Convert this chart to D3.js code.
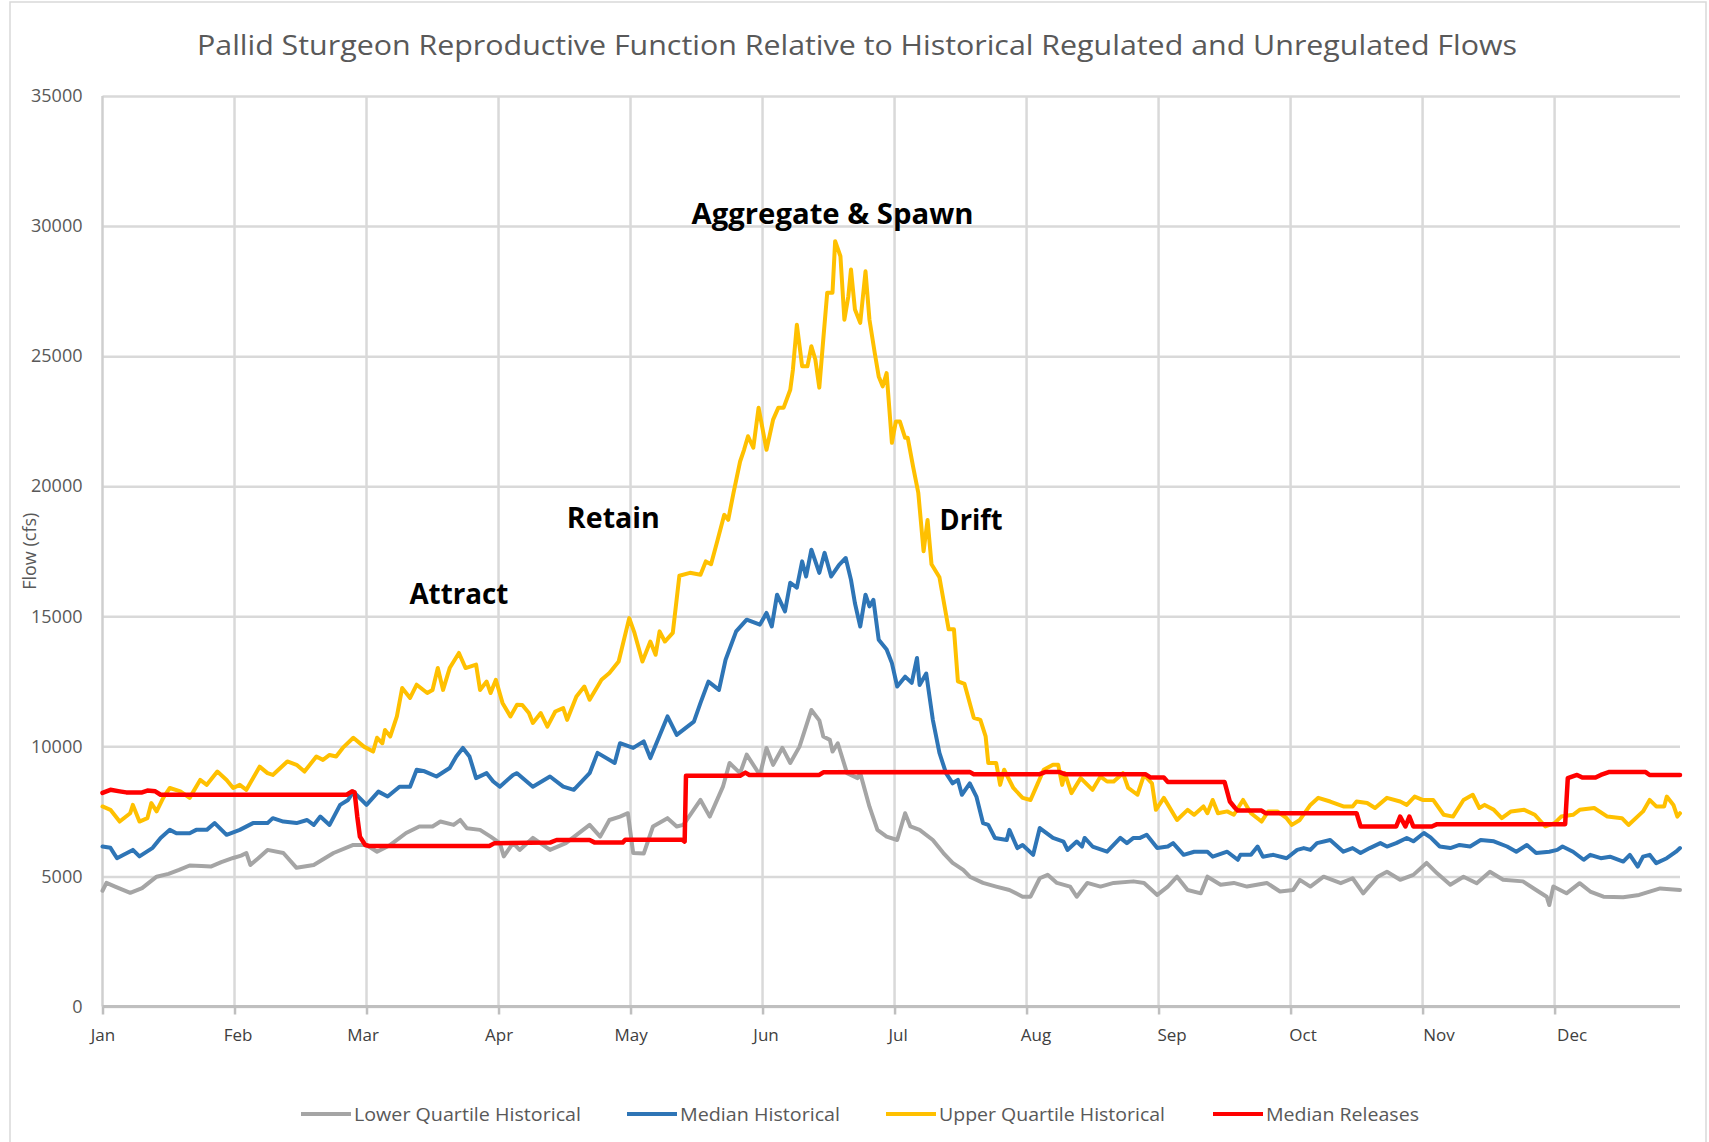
<!DOCTYPE html>
<html>
<head>
<meta charset="utf-8">
<script src="https://cdn.jsdelivr.net/npm/d3@7"></script>
<style>
  html, body { margin: 0; padding: 0; background: #ffffff; }
  svg { display: block; }
  text { font-family: "Open Sans", "Noto Sans", sans-serif; }
</style>
</head>
<body>
<svg id="chart" width="1709" height="1142"></svg>
<script>
// ---------- DATA ----------
const chartTitle = "Pallid Sturgeon Reproductive Function Relative to Historical Regulated and Unregulated Flows";
const yAxisTitle = "Flow (cfs)";
const monthLabels = ["Jan","Feb","Mar","Apr","May","Jun","Jul","Aug","Sep","Oct","Nov","Dec"];
const yTicks = [0, 5000, 10000, 15000, 20000, 25000, 30000, 35000];
const seriesNames = ["Lower Quartile Historical", "Median Historical", "Upper Quartile Historical", "Median Releases"];

// [month position (0 = Jan 1), flow cfs]
const lowerQuartile = [[0,4450],[0.03,4750],[0.1,4600],[0.21,4370],[0.3,4550],[0.41,4990],[0.5,5100],[0.58,5250],[0.66,5420],[0.75,5400],[0.82,5380],[0.9,5550],[0.99,5710],[1.05,5800],[1.09,5900],[1.12,5440],[1.18,5700],[1.25,6020],[1.37,5900],[1.47,5330],[1.6,5440],[1.75,5900],[1.9,6210],[2.0,6210],[2.08,5950],[2.18,6210],[2.3,6670],[2.4,6920],[2.5,6920],[2.56,7110],[2.66,6980],[2.71,7170],[2.76,6850],[2.86,6790],[2.94,6530],[3.01,6280],[3.04,5770],[3.11,6280],[3.16,6020],[3.26,6480],[3.39,6020],[3.51,6280],[3.69,6980],[3.77,6530],[3.84,7170],[3.92,7300],[3.98,7430],[4.02,5900],[4.1,5880],[4.17,6920],[4.28,7240],[4.35,6920],[4.4,6980],[4.53,7940],[4.6,7300],[4.7,8450],[4.75,9360],[4.83,8970],[4.88,9680],[4.98,8900],[5.03,9940],[5.08,9290],[5.15,9940],[5.21,9360],[5.28,9990],[5.37,11400],[5.43,11000],[5.46,10380],[5.51,10250],[5.53,9800],[5.57,10120],[5.64,8970],[5.72,8780],[5.74,8970],[5.81,7680],[5.87,6790],[5.94,6530],[6.02,6400],[6.08,7430],[6.12,6920],[6.19,6790],[6.29,6400],[6.37,5900],[6.44,5520],[6.52,5250],[6.57,4990],[6.67,4750],[6.77,4610],[6.87,4480],[6.97,4220],[7.03,4220],[7.1,4930],[7.16,5060],[7.23,4750],[7.33,4610],[7.38,4220],[7.46,4750],[7.56,4610],[7.66,4750],[7.81,4810],[7.89,4750],[7.99,4290],[8.07,4610],[8.14,4990],[8.22,4480],[8.32,4350],[8.37,4990],[8.47,4680],[8.57,4750],[8.67,4610],[8.82,4750],[8.92,4420],[9.02,4480],[9.07,4870],[9.15,4610],[9.25,4990],[9.38,4740],[9.47,4930],[9.55,4350],[9.66,4990],[9.73,5180],[9.83,4870],[9.93,5060],[10.03,5520],[10.11,5120],[10.21,4680],[10.31,4990],[10.41,4740],[10.51,5180],[10.61,4870],[10.76,4810],[10.86,4480],[10.94,4220],[10.96,3900],[10.99,4610],[11.09,4350],[11.19,4740],[11.27,4420],[11.37,4220],[11.52,4200],[11.64,4290],[11.8,4540],[11.95,4480]];

const medianHistorical = [[0,6150],[0.06,6100],[0.11,5700],[0.16,5830],[0.23,6020],[0.28,5770],[0.38,6100],[0.44,6480],[0.51,6790],[0.56,6660],[0.66,6660],[0.71,6790],[0.79,6790],[0.85,7050],[0.94,6600],[1.04,6790],[1.14,7050],[1.25,7050],[1.29,7240],[1.37,7110],[1.47,7050],[1.55,7170],[1.6,6980],[1.65,7300],[1.72,6980],[1.8,7750],[1.86,7940],[1.9,8260],[2.0,7750],[2.09,8260],[2.16,8070],[2.25,8450],[2.33,8450],[2.38,9100],[2.44,9040],[2.53,8840],[2.63,9170],[2.68,9610],[2.73,9940],[2.78,9610],[2.83,8780],[2.91,8970],[2.96,8650],[3.01,8450],[3.11,8900],[3.14,8970],[3.26,8450],[3.39,8840],[3.49,8450],[3.57,8330],[3.69,8970],[3.75,9750],[3.88,9360],[3.92,10120],[4.02,9940],[4.1,10190],[4.15,9550],[4.28,11150],[4.35,10440],[4.48,10950],[4.53,11670],[4.59,12490],[4.67,12170],[4.72,13330],[4.8,14420],[4.88,14870],[4.98,14680],[5.03,15130],[5.07,14610],[5.11,15830],[5.17,15190],[5.21,16290],[5.26,16100],[5.3,17110],[5.33,16530],[5.37,17560],[5.43,16670],[5.47,17440],[5.52,16530],[5.58,16980],[5.63,17240],[5.67,16400],[5.7,15500],[5.74,14610],[5.78,15830],[5.81,15380],[5.84,15630],[5.88,14100],[5.94,13720],[5.98,13200],[6.02,12300],[6.08,12680],[6.13,12440],[6.17,13400],[6.19,12360],[6.24,12800],[6.29,11020],[6.34,9750],[6.39,8970],[6.44,8580],[6.48,8710],[6.51,8140],[6.57,8580],[6.62,8070],[6.67,7050],[6.71,6980],[6.76,6480],[6.85,6400],[6.87,6790],[6.93,6090],[6.97,6210],[7.05,5830],[7.1,6860],[7.2,6480],[7.28,6340],[7.31,6020],[7.38,6340],[7.42,6150],[7.44,6480],[7.5,6150],[7.61,5950],[7.71,6480],[7.76,6280],[7.81,6480],[7.86,6480],[7.91,6600],[7.99,6090],[8.07,6150],[8.11,6280],[8.19,5830],[8.27,5950],[8.37,5950],[8.41,5760],[8.52,5950],[8.6,5640],[8.62,5830],[8.7,5830],[8.75,6150],[8.79,5760],[8.87,5830],[8.97,5700],[9.05,6020],[9.1,6090],[9.15,6020],[9.2,6280],[9.3,6400],[9.4,5950],[9.47,6090],[9.53,5900],[9.6,6090],[9.68,6280],[9.73,6150],[9.8,6280],[9.88,6480],[9.93,6350],[10.01,6670],[10.06,6500],[10.13,6150],[10.21,6090],[10.28,6210],[10.36,6150],[10.44,6400],[10.54,6350],[10.64,6150],[10.71,5950],[10.79,6210],[10.86,5900],[10.96,5950],[11.02,6020],[11.06,6150],[11.14,5950],[11.22,5640],[11.27,5830],[11.35,5700],[11.42,5760],[11.52,5570],[11.57,5830],[11.63,5380],[11.67,5760],[11.72,5830],[11.77,5510],[11.85,5700],[11.92,5950],[11.95,6090]];

const upperQuartile = [[0,7690],[0.06,7560],[0.13,7110],[0.21,7430],[0.23,7750],[0.28,7110],[0.34,7240],[0.37,7820],[0.41,7500],[0.46,8020],[0.51,8400],[0.59,8270],[0.66,8020],[0.74,8710],[0.79,8520],[0.87,9030],[0.94,8710],[0.99,8400],[1.04,8520],[1.09,8330],[1.19,9220],[1.25,8970],[1.29,8900],[1.4,9420],[1.47,9290],[1.53,9030],[1.62,9610],[1.67,9480],[1.72,9670],[1.77,9610],[1.82,9940],[1.9,10330],[1.98,9990],[2.05,9800],[2.08,10330],[2.12,10120],[2.14,10630],[2.18,10380],[2.23,11150],[2.27,12240],[2.33,11860],[2.38,12370],[2.46,12050],[2.5,12170],[2.54,13010],[2.58,12170],[2.63,13010],[2.7,13590],[2.75,13010],[2.83,13140],[2.86,12170],[2.91,12490],[2.94,12050],[2.98,12560],[3.03,11670],[3.09,11150],[3.14,11600],[3.18,11590],[3.23,11280],[3.26,10900],[3.32,11280],[3.37,10760],[3.43,11340],[3.49,11470],[3.52,11020],[3.59,11920],[3.65,12300],[3.69,11790],[3.78,12560],[3.84,12820],[3.91,13260],[3.99,14930],[4.03,14360],[4.09,13260],[4.15,14030],[4.19,13520],[4.22,14420],[4.26,14030],[4.32,14360],[4.37,16560],[4.45,16670],[4.53,16600],[4.57,17110],[4.61,17000],[4.66,17940],[4.71,18900],[4.74,18710],[4.78,19740],[4.83,20950],[4.86,21400],[4.89,21920],[4.93,21480],[4.97,23020],[5.03,21400],[5.08,22560],[5.12,23020],[5.16,23020],[5.21,23710],[5.23,24480],[5.26,26210],[5.3,24610],[5.34,24610],[5.37,25380],[5.4,24870],[5.43,23790],[5.46,25640],[5.49,27440],[5.53,27440],[5.55,29420],[5.59,28840],[5.62,26400],[5.65,27300],[5.67,28330],[5.7,26790],[5.74,26280],[5.78,28260],[5.81,26400],[5.85,25120],[5.88,24220],[5.91,23840],[5.94,24350],[5.98,21670],[6.01,22490],[6.04,22490],[6.08,21860],[6.1,21860],[6.14,20760],[6.18,19740],[6.22,17500],[6.25,18700],[6.28,17000],[6.34,16500],[6.41,14500],[6.45,14500],[6.48,12500],[6.53,12400],[6.6,11100],[6.65,11020],[6.69,10380],[6.71,9360],[6.77,9360],[6.8,8520],[6.83,9100],[6.9,8400],[6.97,8020],[7.03,7940],[7.08,8520],[7.13,9100],[7.2,9290],[7.24,9290],[7.27,8520],[7.29,8970],[7.34,8200],[7.41,8780],[7.5,8330],[7.56,8840],[7.61,8650],[7.66,8650],[7.73,8970],[7.77,8400],[7.84,8140],[7.89,8900],[7.95,8580],[7.98,7560],[8.04,8020],[8.14,7170],[8.22,7560],[8.27,7370],[8.34,7690],[8.37,7430],[8.41,7940],[8.45,7430],[8.52,7500],[8.57,7370],[8.64,7940],[8.7,7430],[8.78,7110],[8.83,7500],[8.9,7500],[8.97,7240],[9.01,6980],[9.07,7170],[9.15,7750],[9.21,8020],[9.3,7880],[9.4,7690],[9.47,7690],[9.5,7880],[9.58,7820],[9.64,7630],[9.73,8020],[9.83,7880],[9.88,7750],[9.94,8070],[10.0,7940],[10.08,7940],[10.16,7370],[10.23,7300],[10.31,7940],[10.38,8140],[10.43,7630],[10.47,7750],[10.54,7560],[10.6,7240],[10.67,7500],[10.77,7560],[10.85,7370],[10.93,6920],[11.0,7050],[11.05,7300],[11.14,7370],[11.19,7560],[11.3,7630],[11.4,7300],[11.51,7240],[11.56,6980],[11.67,7500],[11.72,7940],[11.77,7690],[11.83,7690],[11.85,8070],[11.9,7750],[11.93,7300],[11.95,7430]];

const medianReleases = [[0,8210],[0.06,8330],[0.13,8270],[0.18,8230],[0.3,8230],[0.34,8300],[0.4,8270],[0.44,8140],[1.85,8140],[1.89,8270],[1.91,8230],[1.93,7300],[1.95,6530],[1.99,6210],[2.02,6170],[2.93,6170],[2.97,6280],[3.39,6300],[3.44,6400],[3.69,6400],[3.73,6300],[3.94,6300],[3.96,6410],[4.39,6410],[4.41,6340],[4.42,8870],[4.83,8870],[4.87,8990],[4.9,8900],[5.43,8900],[5.46,9000],[6.57,9010],[6.6,8930],[7.1,8930],[7.14,9010],[7.25,9010],[7.29,8930],[7.9,8930],[7.94,8800],[8.04,8800],[8.07,8630],[8.5,8630],[8.54,7880],[8.58,7630],[8.6,7530],[8.78,7530],[8.81,7430],[9.5,7430],[9.53,6920],[9.8,6920],[9.83,7300],[9.87,6920],[9.9,7300],[9.93,6920],[10.07,6920],[10.11,7010],[11.08,7010],[11.1,8780],[11.17,8900],[11.21,8800],[11.31,8800],[11.35,8900],[11.41,9010],[11.69,9010],[11.72,8900],[11.95,8900]];

const seriesColors = ["#a5a5a5", "#2e75b6", "#ffc000", "#ff0000"];

const phaseLabels = ["Attract", "Retain", "Aggregate & Spawn", "Drift"];
const phaseMonth = [2.70, 3.87, 5.53, 6.58];
const phaseFlow = [15900, 18830, 30520, 18750];

// ---------- LAYOUT ----------
const svg = d3.select("#chart");
const plot = { left: 102.5, right: 1680, top: 96, bottom: 1006.5 };
const phaseTextWidth = [99, 93, 282, 63];
const monthLabelShift = [0, 3, -4, 0, 0, 3, 3, 9, 13, 12, 16, 17];
const legendX = [301, 627, 886, 1213];
const legendTextWidth = [227, 160, 226, 153];
const legendY = 1114;

svg.append("rect").attr("x", 10).attr("y", 2).attr("width", 1696).attr("height", 1150)
  .attr("fill", "#ffffff").attr("stroke", "#d9d9d9").attr("stroke-width", 1.5);

const x = d3.scaleLinear().domain([0, 11.95]).range([plot.left, plot.right]);
const y = d3.scaleLinear().domain([0, 35000]).range([plot.bottom, plot.top]);

// Horizontal gridlines via axis
const yAxis = d3.axisLeft(y).tickValues(yTicks).tickSize(-(plot.right - plot.left)).tickPadding(20)
  .tickFormat(d3.format("d"));
const gy = svg.append("g").attr("transform", `translate(${plot.left},0)`).call(yAxis);
gy.select(".domain").remove();
gy.selectAll(".tick line").attr("stroke", "#d9d9d9").attr("stroke-width", 2.5);
gy.selectAll(".tick text").attr("fill", "#595959").style("font-size", "18px").attr("x", -20);

// Vertical month gridlines
const monthPos = monthLabels.map((m, i) => i);
const gx = svg.append("g");
gx.selectAll("line.vgrid").data(monthPos).enter().append("line")
  .attr("class", "vgrid")
  .attr("x1", d => x(d)).attr("x2", d => x(d))
  .attr("y1", y(35000)).attr("y2", y(0))
  .attr("stroke", d => d === 0 ? "#cfcfcf" : "#d9d9d9").attr("stroke-width", 2.5);

// X axis
const xAxis = d3.axisBottom(x).tickValues(monthPos).tickSize(8).tickPadding(14)
  .tickFormat((d, i) => monthLabels[i]);
const gxa = svg.append("g").attr("transform", `translate(0,${plot.bottom})`).call(xAxis);
gxa.select(".domain").attr("stroke", "#bfbfbf").attr("stroke-width", 3)
  .attr("d", `M${plot.left},0H${plot.right}`);
gxa.selectAll(".tick line").attr("stroke", "#bfbfbf").attr("stroke-width", 2.5);
gxa.selectAll(".tick text").attr("fill", "#404040").style("font-size", "17px")
  .attr("dx", (d, i) => monthLabelShift[i]);

// Series lines
const line = d3.line().x(d => x(d[0])).y(d => y(d[1])).curve(d3.curveLinear);
const allSeries = [lowerQuartile, medianHistorical, upperQuartile, medianReleases];
svg.append("g").selectAll("path.series").data(allSeries).enter().append("path")
  .attr("class", "series")
  .attr("d", line)
  .attr("fill", "none")
  .attr("stroke", (d, i) => seriesColors[i])
  .attr("stroke-width", (d, i) => i === 3 ? 4.5 : 4)
  .attr("stroke-linejoin", "round")
  .attr("stroke-linecap", "round");

// Phase annotations
svg.append("g").selectAll("text.phase").data(phaseLabels).enter().append("text")
  .attr("class", "phase")
  .attr("x", (d, i) => x(phaseMonth[i]))
  .attr("y", (d, i) => y(phaseFlow[i]))
  .attr("text-anchor", "middle")
  .attr("dominant-baseline", "central")
  .style("font-size", "28px").style("font-weight", "bold")
  .attr("textLength", (d, i) => phaseTextWidth[i]).attr("lengthAdjust", "spacingAndGlyphs")
  .attr("fill", "#000000")
  .text(d => d);

// Title
svg.append("text").attr("x", 857).attr("y", 44)
  .attr("text-anchor", "middle").attr("dominant-baseline", "central")
  .attr("fill", "#595959").style("font-size", "27px")
  .attr("textLength", 1320).attr("lengthAdjust", "spacingAndGlyphs")
  .text(chartTitle);

// Y axis title
svg.append("text")
  .attr("transform", `translate(29,${(plot.top + plot.bottom) / 2}) rotate(-90)`)
  .attr("text-anchor", "middle").attr("dominant-baseline", "central")
  .attr("fill", "#595959").style("font-size", "18px")
  .text(yAxisTitle);

// Legend
const lg = svg.append("g");
seriesNames.forEach((name, i) => {
  lg.append("line").attr("x1", legendX[i]).attr("x2", legendX[i] + 50)
    .attr("y1", legendY).attr("y2", legendY)
    .attr("stroke", seriesColors[i]).attr("stroke-width", 4);
  lg.append("text").attr("x", legendX[i] + 53).attr("y", legendY)
    .attr("dominant-baseline", "central").attr("fill", "#595959")
    .style("font-size", "18px")
    .attr("textLength", legendTextWidth[i]).attr("lengthAdjust", "spacingAndGlyphs")
    .text(name);
});
</script>
</body>
</html>
